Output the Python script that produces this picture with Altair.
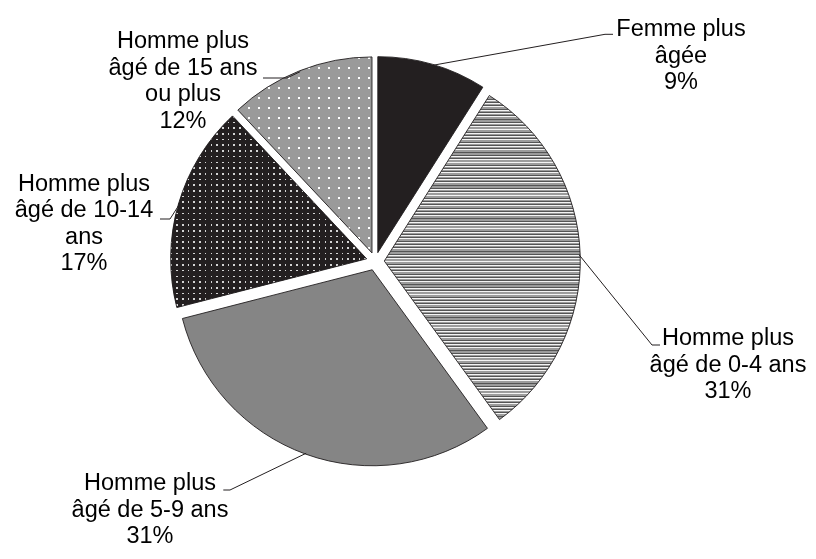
import math
import numpy as np
import pandas as pd
import altair as alt

# ---------------- data ----------------
categories = [
    "Femme plus âgée",
    "Homme plus âgé de 0-4 ans",
    "Homme plus âgé de 5-9 ans",
    "Homme plus âgé de 10-14 ans",
    "Homme plus âgé de 15 ans ou plus",
]
values = [9, 31, 31, 17, 12]
label_heads = [
    "Femme plus\nâgée",
    "Homme plus\nâgé de 0-4 ans",
    "Homme plus\nâgé de 5-9 ans",
    "Homme plus\nâgé de 10-14\nans",
    "Homme plus\nâgé de 15 ans\nou plus",
]

# ---------------- layout (pixels in plot area) ----------------
W, H = 800, 543
CX, CY = 367.3, 253.3
R = 196
EXPLODE = 9
label_x = [673, 720, 142, 76, 175]
label_y = [28, 337, 482, 182.7, 40.3]
elbow_x = [597, 644, 222, 162, 279]
elbow_y = [26.3, 337, 482, 211, 70]
tail_x = [605, 652, 215.3, 152, 255]
tail_y = [26.3, 337, 482, 211, 70]

INK = "#231f20"

# ---------------- geometry derived from values ----------------
tot = float(sum(values))
cum = np.concatenate([[0], np.cumsum(values)])
t0 = 2 * math.pi * cum[:-1] / tot
t1 = 2 * math.pi * cum[1:] / tot
mid = (t0 + t1) / 2
ox = CX + EXPLODE * np.sin(mid)
oy = CY - EXPLODE * np.cos(mid)

slices = pd.DataFrame({
    "cat": categories, "value": values, "t0": t0, "t1": t1,
    "ox": ox, "oy": oy,
})


def bbox(i):
    a = np.linspace(t0[i], t1[i], 400)
    xs = np.concatenate([[ox[i]], ox[i] + R * np.sin(a)])
    ys = np.concatenate([[oy[i]], oy[i] - R * np.cos(a)])
    return xs.max() - xs.min(), ys.max() - ys.min()


def band_gradient(length, bands, vertical_bands):
    stops = []
    pos = 0.0
    while pos < length:
        for color, w in bands:
            a = min(pos / length, 1.0)
            b = min((pos + w) / length, 1.0)
            stops.append({"offset": a, "color": color})
            stops.append({"offset": b, "color": color})
            pos += w
    g = {"gradient": "linear", "stops": stops, "x1": 0, "y1": 0}
    if vertical_bands:
        g.update({"x2": 1, "y2": 0})
    else:
        g.update({"x2": 0, "y2": 1})
    return g


base = alt.Chart(slices)


def arc_layer(i, fill, **kw):
    return base.transform_filter(alt.datum.cat == categories[i]).mark_arc(
        radius=R, fill=fill, strokeWidth=0, **kw
    ).encode(
        x=alt.X("ox:Q", scale=None),
        y=alt.Y("oy:Q", scale=None),
        theta=alt.Theta("t0:Q", scale=None),
        theta2="t1:Q",
    )


layers = []
# Femme plus âgée : solid black
layers.append(arc_layer(0, INK))
# 0-4 : horizontal stripes
w1, h1 = bbox(1)
layers.append(arc_layer(1, band_gradient(
    h1, [("#555555", 0.9), ("#f4f4f4", 0.9), ("#9c9c9c", 1.5)], False)))
# 5-9 : solid grey
layers.append(arc_layer(2, "#858585"))
# 10-14 : dark with light dots
w3, h3 = bbox(3)
dot_dark = [("#d4d4d4", 1.6), ("#231f20", 4.1)]
layers.append(arc_layer(3, band_gradient(h3, dot_dark, False)))
layers.append(arc_layer(3, band_gradient(w3, dot_dark, True), blend="darken"))
# 15+ : grey with white dots
w4, h4 = bbox(4)
dot_light = [("#ffffff", 2.4), ("#9a9a9a", 7.6)]
layers.append(arc_layer(4, band_gradient(h4, dot_light, False)))
layers.append(arc_layer(4, band_gradient(w4, dot_light, True), blend="darken"))

# outlines
layers.append(base.mark_arc(radius=R, fillOpacity=0, stroke=INK, strokeWidth=0.9).encode(
    x=alt.X("ox:Q", scale=None),
    y=alt.Y("oy:Q", scale=None),
    theta=alt.Theta("t0:Q", scale=None),
    theta2="t1:Q",
))

# leader lines: from arc midpoint to elbow to label
rows = []
for i in range(len(categories)):
    sx = ox[i] + (R - 1) * math.sin(mid[i])
    sy = oy[i] - (R - 1) * math.cos(mid[i])
    rows.append({"id": i, "k": 0, "x": sx, "y": sy})
    rows.append({"id": i, "k": 1, "x": elbow_x[i], "y": elbow_y[i]})
    rows.append({"id": i, "k": 2, "x": tail_x[i], "y": tail_y[i]})
leaders = pd.DataFrame(rows)
layers.append(alt.Chart(leaders).mark_line(color=INK, strokeWidth=1).encode(
    x=alt.X("x:Q", scale=None),
    y=alt.Y("y:Q", scale=None),
    detail="id:N",
    order="k:Q",
))

labels = pd.DataFrame({
    "text": [f"{h}\n{v}%" for h, v in zip(label_heads, values)],
    "x": label_x, "y": label_y,
})
layers.append(alt.Chart(labels).mark_text(
    align="center", baseline="alphabetic", lineBreak="\n", lineHeight=26.5,
    fontSize=23.5, font="Liberation Sans", color="#000000",
).encode(
    x=alt.X("x:Q", scale=None),
    y=alt.Y("y:Q", scale=None),
    text="text:N",
))

chart = alt.layer(*layers).properties(
    width=W, height=H, padding=0, autosize=alt.AutoSizeParams(type="none"),
    background="white",
).configure_view(stroke=None)

chart.save("out.html", embed_options={"renderer": "svg", "actions": False})
